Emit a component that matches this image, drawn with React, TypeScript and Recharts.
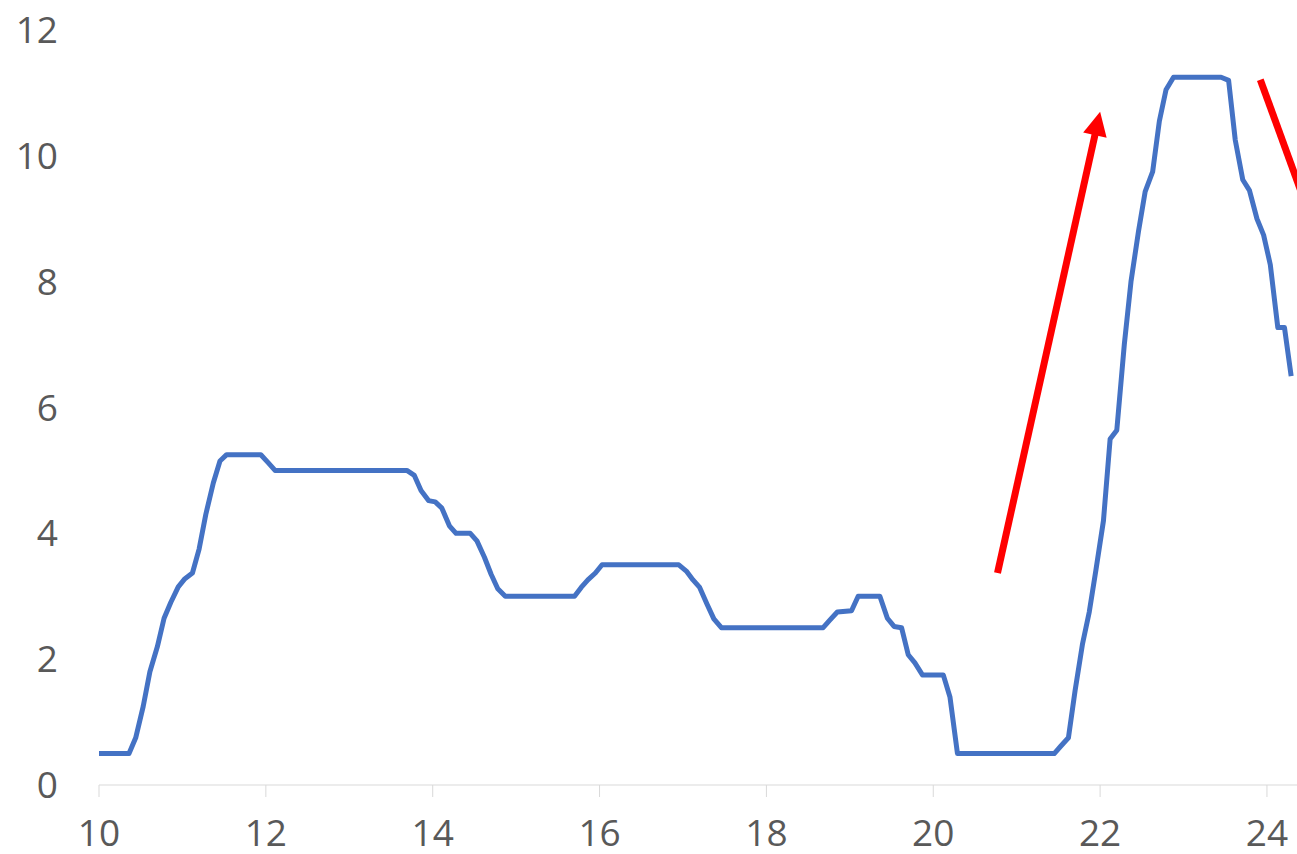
import React from 'react';
import { LineChart, Line, XAxis, YAxis, ReferenceLine } from 'recharts';

// hour of day vs value
const hours = [
  10.0, 10.36, 10.44, 10.53, 10.61, 10.7, 10.78, 10.86, 10.95, 11.03, 11.12, 11.2, 11.28, 11.37, 11.45, 11.53,
  11.94, 12.03, 12.11, 13.69, 13.78, 13.86, 13.95, 14.03, 14.11, 14.2, 14.28, 14.45, 14.53, 14.62, 14.7, 14.78,
  14.87, 15.7, 15.78, 15.86, 15.95, 16.03, 16.95, 17.04, 17.12, 17.2, 17.29, 17.37, 17.46, 18.68, 18.76, 18.85,
  19.02, 19.1, 19.36, 19.45, 19.53, 19.62, 19.7, 19.78, 19.87, 20.12, 20.2, 20.29, 21.45, 21.53, 21.62, 21.7,
  21.79, 21.87, 21.95, 22.04, 22.12, 22.2, 22.29, 22.37, 22.46, 22.54, 22.63, 22.71, 22.79, 22.88, 23.45, 23.54,
  23.62, 23.71, 23.79, 23.88, 23.96, 24.04, 24.13, 24.21, 24.29,
];
const values = [
  0.5, 0.5, 0.75, 1.25, 1.8, 2.2, 2.65, 2.9, 3.15, 3.28, 3.37, 3.75, 4.3, 4.8, 5.15, 5.25,
  5.25, 5.12, 5.0, 5.0, 4.92, 4.68, 4.52, 4.5, 4.4, 4.12, 4.0, 4.0, 3.88, 3.62, 3.35, 3.12,
  3.0, 3.0, 3.14, 3.26, 3.37, 3.5, 3.5, 3.4, 3.26, 3.14, 2.87, 2.64, 2.5, 2.5, 2.62, 2.75,
  2.77, 3.0, 3.0, 2.65, 2.52, 2.5, 2.07, 1.94, 1.75, 1.75, 1.4, 0.5, 0.5, 0.62, 0.75, 1.5,
  2.25, 2.75, 3.42, 4.2, 5.5, 5.64, 7.0, 8.0, 8.8, 9.43, 9.75, 10.55, 11.05, 11.25, 11.25, 11.2,
  10.25, 9.62, 9.45, 9.0, 8.74, 8.27, 7.27, 7.27, 6.5,
];
const xTicks = [10, 12, 14, 16, 18, 20, 22, 24];
const yTicks = [0, 2, 4, 6, 8, 10, 12];

// red annotation arrows (start -> end, in data units)
const arrowUp = [{ x: 20.77, y: 3.37 }, { x: 22.0, y: 10.7 }];
const arrowDown = [{ x: 23.92, y: 11.21 }, { x: 24.5, y: 9.1 }];

const data = hours.map((h, i) => ({ h, v: values[i] }));

const BLUE = '#4472C4';
const RED = '#FF0000';
const GREY = '#595959';

function Arrow(props: any) {
  const { x1, y1, x2, y2, head } = props;
  if (x1 == null || x2 == null) return null;
  const dx = x2 - x1;
  const dy = y2 - y1;
  const len = Math.sqrt(dx * dx + dy * dy);
  const ux = dx / len;
  const uy = dy / len;
  if (!head) {
    return <line x1={x1} y1={y1} x2={x2} y2={y2} stroke={RED} strokeWidth={7} />;
  }
  const hl = 24;
  const hw = 12;
  const bx = x2 - ux * hl;
  const by = y2 - uy * hl;
  const pts = `${x2},${y2} ${bx - uy * hw},${by + ux * hw} ${bx + uy * hw},${by - ux * hw}`;
  return (
    <g>
      <line x1={x1} y1={y1} x2={bx + ux * 2} y2={by + uy * 2} stroke={RED} strokeWidth={7} />
      <polygon points={pts} fill={RED} />
    </g>
  );
}

export default function App() {
  return (
    <div style={{ position: 'absolute', left: 0, top: 0, width: 1297, height: 854, background: '#fff' }}>
      <LineChart width={1297} height={854} data={data} margin={{ top: 30, right: 0, left: 0, bottom: 0 }}>
        <XAxis
          dataKey="h"
          type="number"
          domain={[10, 24.36]}
          ticks={xTicks}
          allowDataOverflow
          height={69}
          stroke="#D9D9D9"
          tickSize={12}
          tickMargin={23}
          tick={{ fill: GREY, fontSize: 37, fontFamily: 'Open Sans' }}
        />
        <YAxis
          type="number"
          domain={[0, 12]}
          ticks={yTicks}
          width={99}
          axisLine={false}
          tickLine={false}
          tickSize={0}
          tickMargin={41}
          tick={{ fill: GREY, fontSize: 37, fontFamily: 'Open Sans' }}
        />
        <Line
          dataKey="v"
          type="linear"
          stroke={BLUE}
          strokeWidth={5}
          strokeLinejoin="round"
          dot={false}
          isAnimationActive={false}
        />
        <ReferenceLine segment={arrowUp} ifOverflow="visible" shape={(p: any) => <Arrow {...p} head />} />
        <ReferenceLine segment={arrowDown} ifOverflow="visible" shape={(p: any) => <Arrow {...p} />} />
      </LineChart>
    </div>
  );
}
